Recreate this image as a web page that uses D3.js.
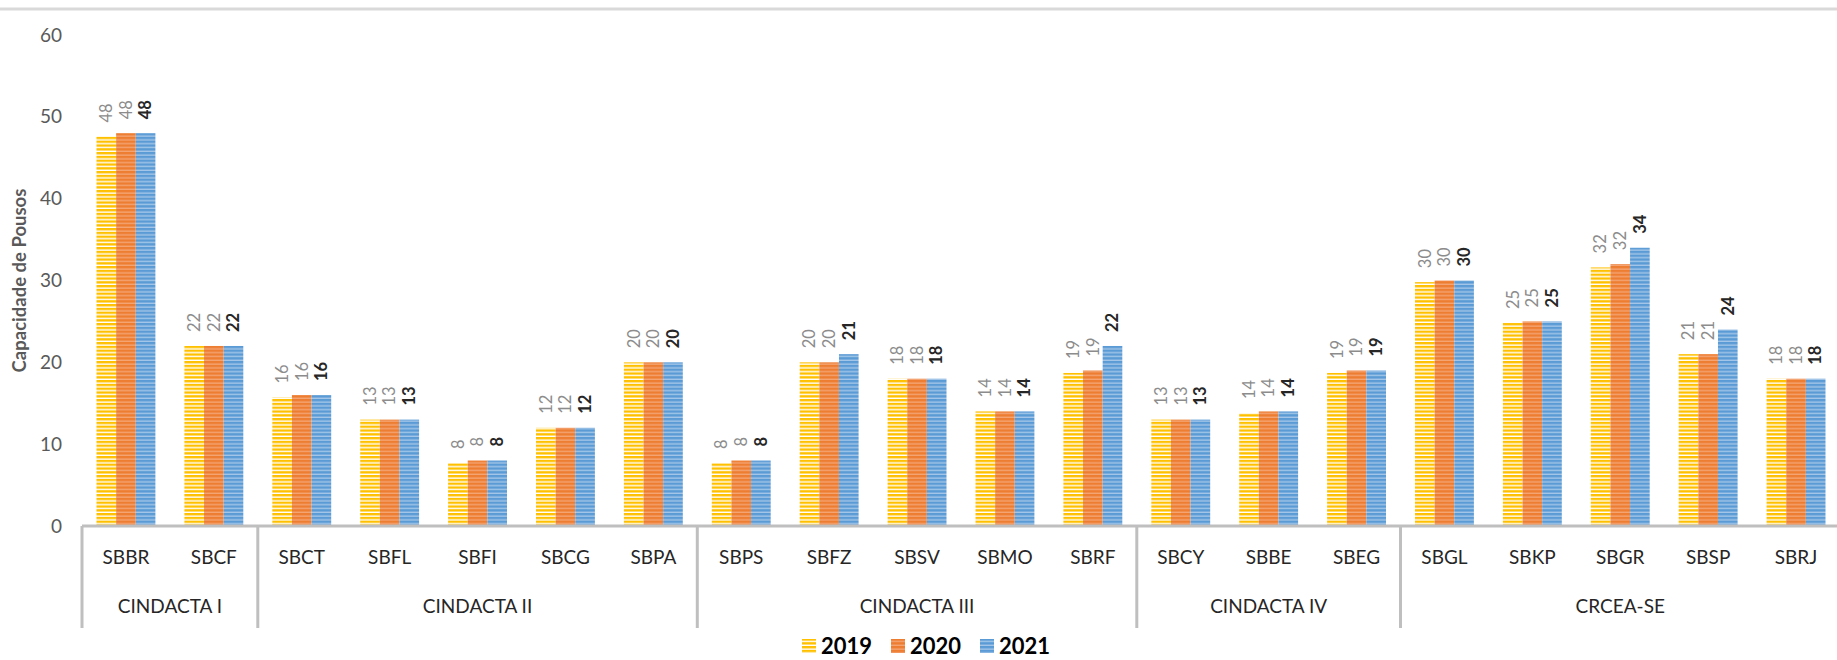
<!DOCTYPE html>
<html>
<head>
<meta charset="utf-8">
<script src="https://cdn.jsdelivr.net/npm/d3@7"></script>
<style>
  body { margin: 0; background: #fff; }
  svg { display: block; font-family: Lato, "Open Sans", sans-serif; }
</style>
</head>
<body>
<svg id="chart" width="1837" height="660"></svg>
<script>
// data
const airports = ["SBBR", "SBCF", "SBCT", "SBFL", "SBFI", "SBCG", "SBPA", "SBPS", "SBFZ", "SBSV",
  "SBMO", "SBRF", "SBCY", "SBBE", "SBEG", "SBGL", "SBKP", "SBGR", "SBSP", "SBRJ"];
const groups = ["CINDACTA I", "CINDACTA II", "CINDACTA III", "CINDACTA IV", "CRCEA-SE"];
const groupSizes = [2, 5, 5, 3, 5];
const years = ["2019", "2020", "2021"];
const v2019 = [47.6, 22, 15.7, 13, 7.7, 12, 20, 7.7, 20, 18, 14, 18.7, 13, 13.8, 18.7, 29.8, 24.8, 31.6, 21, 18];
const v2020 = [48, 22, 16, 13, 8, 12, 20, 8, 20, 18, 14, 19, 13, 14, 19, 30, 25, 32, 21, 18];
const v2021 = [48, 22, 16, 13, 8, 12, 20, 8, 21, 18, 14, 22, 13, 14, 19, 30, 25, 34, 24, 18];
const yTicks = [0, 10, 20, 30, 40, 50, 60];

const series = [v2019, v2020, v2021];
const colors = { "2019": "#FFC000", "2020": "#ED7D31", "2021": "#5B9BD5" };
const stripes = { "2019": "#ffffff", "2020": "#F4A474", "2021": "#A3C6E8" };

const svg = d3.select("#chart");
const margin = { left: 82, right: 1840, top: 35, bottom: 526 };

// top border line
svg.append("line")
  .attr("x1", 0).attr("x2", 1837).attr("y1", 9).attr("y2", 9)
  .attr("stroke", "#d9d9d9").attr("stroke-width", 3);

// striped patterns
const defs = svg.append("defs");
years.forEach((yr) => {
  const p = defs.append("pattern")
    .attr("id", "pat" + yr)
    .attr("patternUnits", "userSpaceOnUse")
    .attr("width", 8).attr("height", 3.8);
  p.append("rect").attr("width", 8).attr("height", 3.8).attr("fill", colors[yr]);
  p.append("rect").attr("y", 2.4).attr("width", 8).attr("height", 1.4).attr("fill", stripes[yr]);
});

const x = d3.scaleBand().domain(airports).range([margin.left, margin.right]).padding(0);
const inner = d3.scaleBand().domain(years)
  .range([x.bandwidth() * 0.165, x.bandwidth() * 0.835]).padding(0);
const y = d3.scaleLinear().domain([0, 60]).range([margin.bottom, margin.top]);

// y axis tick labels
svg.append("g")
  .selectAll("text")
  .data(yTicks)
  .join("text")
  .attr("x", 62)
  .attr("y", (d) => y(d))
  .attr("dy", "0.35em")
  .attr("text-anchor", "end")
  .attr("font-size", 19)
  .attr("fill", "#595959")
  .text((d) => d);

svg.append("text")
  .attr("transform", `translate(20,${(margin.top + margin.bottom) / 2}) rotate(-90)`)
  .attr("text-anchor", "middle")
  .attr("dy", "0.35em")
  .attr("font-size", 18.5)
  .attr("font-weight", "bold")
  .attr("fill", "#595959")
  .text("Capacidade de Pousos");

// bars
const rows = airports.map((a, i) => ({ a, vals: years.map((yr, j) => ({ yr, v: series[j][i] })) }));

const cat = svg.append("g")
  .selectAll("g")
  .data(rows)
  .join("g")
  .attr("transform", (d) => `translate(${x(d.a)},0)`);

cat.selectAll("rect")
  .data((d) => d.vals)
  .join("rect")
  .attr("x", (d) => inner(d.yr))
  .attr("width", inner.bandwidth())
  .attr("y", (d) => y(d.v))
  .attr("height", (d) => y(0) - y(d.v))
  .attr("fill", (d) => `url(#pat${d.yr})`);

cat.selectAll("text")
  .data((d) => d.vals)
  .join("text")
  .attr("transform", (d) => `translate(${inner(d.yr) + inner.bandwidth() / 2},${y(d.v) - 14}) rotate(-90)`)
  .attr("dy", "0.35em")
  .attr("font-size", 16.5)
  .attr("font-weight", (d) => (d.yr === "2021" ? "bold" : "normal"))
  .attr("fill", (d) => (d.yr === "2021" ? "#262626" : "#8c8c8c"))
  .text((d) => d3.format(".0f")(d.v));

// category axis
const axisColor = "#bfbfbf";
svg.append("line")
  .attr("x1", margin.left).attr("x2", margin.right)
  .attr("y1", margin.bottom).attr("y2", margin.bottom)
  .attr("stroke", axisColor).attr("stroke-width", 3);

svg.append("g")
  .selectAll("text")
  .data(airports)
  .join("text")
  .attr("x", (d) => x(d) + x.bandwidth() / 2)
  .attr("y", 557)
  .attr("dy", "0.35em")
  .attr("text-anchor", "middle")
  .attr("font-size", 19)
  .attr("fill", "#262626")
  .text((d) => d);

const starts = groupSizes.map((n, i) => d3.sum(groupSizes.slice(0, i)));
const bounds = starts.concat([airports.length]);

svg.append("g")
  .selectAll("line")
  .data(bounds)
  .join("line")
  .attr("x1", (d) => (d < airports.length ? x(airports[d]) : margin.right))
  .attr("x2", (d) => (d < airports.length ? x(airports[d]) : margin.right))
  .attr("y1", margin.bottom)
  .attr("y2", 628)
  .attr("stroke", axisColor).attr("stroke-width", 3);

svg.append("g")
  .selectAll("text")
  .data(groups)
  .join("text")
  .attr("x", (d, i) => {
    const a = x(airports[starts[i]]);
    const b = x(airports[starts[i] + groupSizes[i] - 1]) + x.bandwidth();
    return (a + b) / 2;
  })
  .attr("y", 606)
  .attr("dy", "0.35em")
  .attr("text-anchor", "middle")
  .attr("font-size", 19)
  .attr("fill", "#262626")
  .text((d) => d);

// legend
const legend = svg.append("g").attr("transform", "translate(802,646)");
const item = legend.selectAll("g")
  .data(years)
  .join("g")
  .attr("transform", (d, i) => `translate(${i * 89},0)`);
item.append("rect")
  .attr("x", 0).attr("y", -7)
  .attr("width", 14).attr("height", 14)
  .attr("fill", (d) => `url(#pat${d})`);
item.append("text")
  .attr("x", 19)
  .attr("dy", "0.35em")
  .attr("font-size", 22)
  .attr("font-weight", "bold")
  .attr("fill", "#000")
  .text((d) => d);
</script>
</body>
</html>
